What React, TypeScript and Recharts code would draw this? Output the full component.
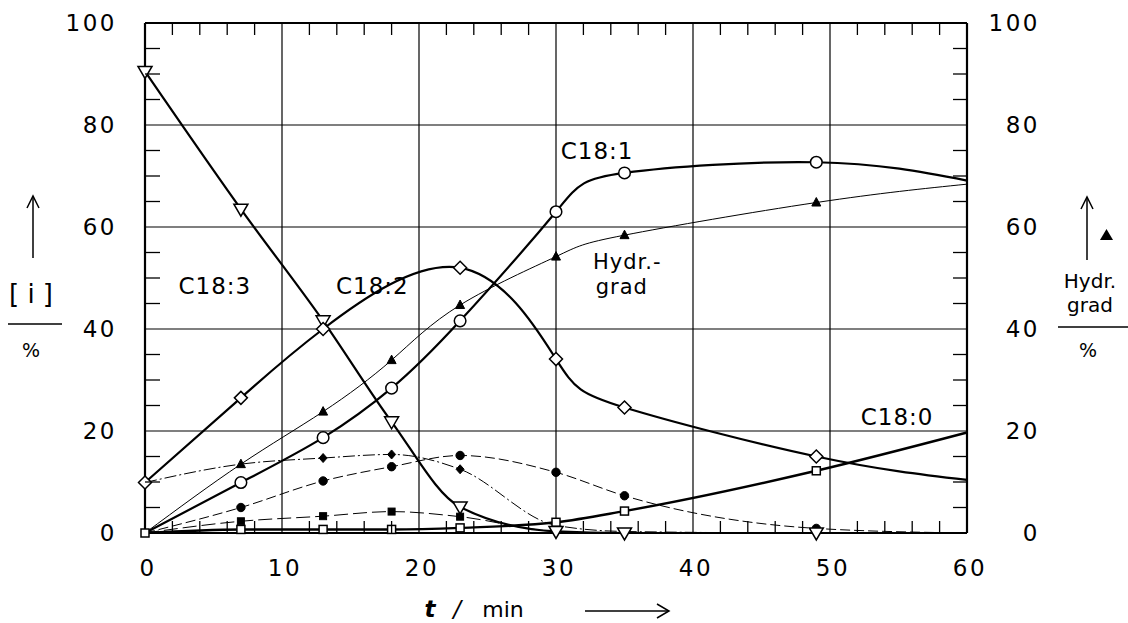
import React from "react";
import { LineChart, Line, XAxis, YAxis, ReferenceLine, ReferenceDot } from "recharts";

const FONT = "'DejaVu Sans', sans-serif";

// sampling times (min); last one only carries the curve ends, no markers
const times = [0, 7, 13, 18, 23, 30, 35, 49, 60];

const c183 = [90.5, 63.5, 41.6, 21.8, 5.1, 0.3, 0, 0, 0];
const c182 = [9.9, 26.5, 40, null, 52, 34.1, 24.6, 15.0, 10.4];
const c181 = [0, 9.9, 18.7, 28.4, 41.6, 63.0, 70.6, 72.7, 69.1];
const c180 = [0, 0.7, 0.7, 0.7, 1.0, 2.1, 4.3, 12.2, 19.7];
const hydrGrad = [0, 13.5, 23.8, 33.9, 44.7, 54.2, 58.4, 64.8, 68.4];
const isoDiamond = [9.9, 13.5, 14.7, 15.4, 12.5, 1.5, 0.3, 0, 0];
const isoDot = [0, 5.0, 10.2, 13.0, 15.2, 11.9, 7.3, 0.9, 0];
const isoSquare = [0, 2.3, 3.3, 4.2, 3.2, 0.3, 0, 0, 0];

// which times get a marker drawn
const marks183 = [0, 7, 13, 18, 23, 30, 35, 49];
const marks182 = [0, 7, 13, 23, 30, 35, 49];
const marks181 = [7, 13, 18, 23, 30, 35, 49];
const marks180 = [0, 7, 13, 18, 23, 30, 35, 49];
const marksHydr = [7, 13, 18, 23, 30, 35, 49];
const marksIsoDiamond = [13, 18, 23];
const marksIsoDot = [7, 13, 18, 23, 30, 35, 49];
const marksIsoSquare = [7, 13, 18, 23];

const xTicks = [0, 2, 4, 6, 8, 10, 12, 14, 16, 18, 20, 22, 24, 26, 28, 30, 32, 34, 36, 38, 40, 42, 44, 46, 48, 50, 52, 54, 56, 58, 60];
const yTicks = [0, 5, 10, 15, 20, 25, 30, 35, 40, 45, 50, 55, 60, 65, 70, 75, 80, 85, 90, 95, 100];
const gridX = [10, 20, 30, 40, 50];
const gridY = [20, 40, 60, 80];

const data = times.map((t, i) => ({
  t,
  c183: c183[i],
  c182: c182[i],
  c181: c181[i],
  c180: c180[i],
  hydr: hydrGrad[i],
  isoDiamond: isoDiamond[i],
  isoDot: isoDot[i],
  isoSquare: isoSquare[i],
}));

type Shape = "triDown" | "diamond" | "circle" | "triUp" | "diamondFill" | "dotFill" | "squareFill" | "square";

function marker(shape: Shape, cx: number, cy: number, key: string) {
  const open = { fill: "#fff", stroke: "#000", strokeWidth: 1.5 };
  const solid = { fill: "#000", stroke: "#000", strokeWidth: 1 };
  switch (shape) {
    case "triDown":
      return <polygon key={key} points={`${cx - 7},${cy - 5} ${cx + 7},${cy - 5} ${cx},${cy + 7}`} {...open} />;
    case "diamond":
      return <polygon key={key} points={`${cx},${cy - 6.5} ${cx + 6.5},${cy} ${cx},${cy + 6.5} ${cx - 6.5},${cy}`} {...open} />;
    case "circle":
      return <circle key={key} cx={cx} cy={cy} r={5.8} {...open} />;
    case "triUp":
      return <polygon key={key} points={`${cx - 4.5},${cy + 3.5} ${cx + 4.5},${cy + 3.5} ${cx},${cy - 5}`} {...solid} />;
    case "diamondFill":
      return <polygon key={key} points={`${cx},${cy - 4.5} ${cx + 4},${cy} ${cx},${cy + 4.5} ${cx - 4},${cy}`} {...solid} />;
    case "dotFill":
      return <circle key={key} cx={cx} cy={cy} r={4.2} {...solid} />;
    case "squareFill":
      return <rect key={key} x={cx - 3.5} y={cy - 3.5} width={7} height={7} {...solid} />;
    default:
      return <rect key={key} x={cx - 4} y={cy - 4} width={8} height={8} {...open} />;
  }
}

function makeDot(shape: Shape, marked: number[]) {
  return (props: any) => {
    const { cx, cy, payload, index } = props;
    const key = `${shape}-${index}`;
    if (cx == null || cy == null || !marked.includes(payload.t)) return <g key={key} />;
    return marker(shape, cx, cy, key);
  };
}

const labelStyle = { fontFamily: FONT, fontSize: 23, fill: "#000", letterSpacing: 2.5 };

function LeftTick(props: any) {
  const { x, y, payload } = props;
  const v = payload.value;
  return (
    <g>
      {v % 20 !== 0 && <line x1={x} x2={x + 15} y1={y} y2={y} stroke="#000" strokeWidth={1.3} />}
      {v % 20 === 0 && (
        <text x={x - 28} y={y} textAnchor="end" dominantBaseline="central" {...labelStyle}>
          {v}
        </text>
      )}
    </g>
  );
}

function RightTick(props: any) {
  const { x, y, payload } = props;
  const v = payload.value;
  return (
    <g>
      {v % 20 !== 0 && <line x1={x} x2={x - 14} y1={y} y2={y} stroke="#000" strokeWidth={1.3} />}
      {v % 20 === 0 && (
        <text x={x + 73} y={y} textAnchor="end" dominantBaseline="central" {...labelStyle}>
          {v}
        </text>
      )}
    </g>
  );
}

function BottomTick(props: any) {
  const { x, y, payload } = props;
  const v = payload.value;
  return (
    <g>
      {v % 10 !== 0 && <line x1={x} x2={x} y1={y} y2={y - 12} stroke="#000" strokeWidth={1.3} />}
      {v % 10 === 0 && (
        <text x={x + 3} y={y + 35} textAnchor="middle" dominantBaseline="central" {...labelStyle}>
          {v}
        </text>
      )}
    </g>
  );
}

function TopTick(props: any) {
  const { x, y, payload } = props;
  const v = payload.value;
  if (v % 10 === 0) return <g />;
  return <line x1={x} x2={x} y1={y} y2={y + 12} stroke="#000" strokeWidth={1.3} />;
}

function annotation(text: string, anchor: "middle" | "start", size = 23) {
  return (p: any) => {
    const vb = p.viewBox || {};
    return (
      <text x={vb.x} y={vb.y} textAnchor={anchor} dominantBaseline="central" {...labelStyle} fontSize={size} letterSpacing={1}>
        {text}
      </text>
    );
  };
}

const axisLine = { stroke: "#000", strokeWidth: 2.2 };

export default function App() {
  return (
    <div style={{ position: "absolute", left: 0, top: 0, width: 1128, height: 623, background: "#fff" }}>
      <LineChart width={1128} height={623} data={data} margin={{ top: 13, right: 101, bottom: 50, left: 85 }}>
        <XAxis
          xAxisId={0}
          dataKey="t"
          type="number"
          domain={[0, 60]}
          ticks={xTicks}
          interval={0}
          orientation="bottom"
          height={40}
          tickSize={0}
          tickMargin={0}
          tickLine={false}
          axisLine={axisLine}
          tick={(p: any) => <BottomTick {...p} />}
        />
        <XAxis
          xAxisId="top"
          dataKey="t"
          type="number"
          domain={[0, 60]}
          ticks={xTicks}
          interval={0}
          orientation="top"
          height={10}
          tickSize={0}
          tickMargin={0}
          tickLine={false}
          axisLine={axisLine}
          tick={(p: any) => <TopTick {...p} />}
        />
        <YAxis
          yAxisId={0}
          type="number"
          domain={[0, 100]}
          ticks={yTicks}
          interval={0}
          width={60}
          tickSize={0}
          tickMargin={0}
          tickLine={false}
          axisLine={axisLine}
          tick={(p: any) => <LeftTick {...p} />}
        />
        <YAxis
          yAxisId="right"
          orientation="right"
          type="number"
          domain={[0, 100]}
          ticks={yTicks}
          interval={0}
          width={60}
          tickSize={0}
          tickMargin={0}
          tickLine={false}
          axisLine={axisLine}
          tick={(p: any) => <RightTick {...p} />}
        />

        {gridX.map((v) => (
          <ReferenceLine key={`gx${v}`} x={v} stroke="#000" strokeWidth={1.2} />
        ))}
        {gridY.map((v) => (
          <ReferenceLine key={`gy${v}`} y={v} stroke="#000" strokeWidth={1.2} />
        ))}

        <Line type="monotone" dataKey="isoSquare" stroke="#000" strokeWidth={1} strokeDasharray="14 5" dot={makeDot("squareFill", marksIsoSquare)} activeDot={false} isAnimationActive={false} />
        <Line type="monotone" dataKey="isoDot" stroke="#000" strokeWidth={1} strokeDasharray="10 4" dot={makeDot("dotFill", marksIsoDot)} activeDot={false} isAnimationActive={false} />
        <Line type="monotone" dataKey="isoDiamond" stroke="#000" strokeWidth={1} strokeDasharray="12 3 2 3" dot={makeDot("diamondFill", marksIsoDiamond)} activeDot={false} isAnimationActive={false} />
        <Line yAxisId="right" type="natural" dataKey="hydr" stroke="#000" strokeWidth={1} dot={makeDot("triUp", marksHydr)} activeDot={false} isAnimationActive={false} />
        <Line type="monotone" dataKey="c180" stroke="#000" strokeWidth={2.4} dot={makeDot("square", marks180)} activeDot={false} isAnimationActive={false} />
        <Line type="monotone" dataKey="c183" stroke="#000" strokeWidth={2.2} dot={makeDot("triDown", marks183)} activeDot={false} isAnimationActive={false} />
        <Line type="natural" dataKey="c182" connectNulls stroke="#000" strokeWidth={2.2} dot={makeDot("diamond", marks182)} activeDot={false} isAnimationActive={false} />
        <Line type="natural" dataKey="c181" stroke="#000" strokeWidth={2.2} dot={makeDot("circle", marks181)} activeDot={false} isAnimationActive={false} />

        <ReferenceDot x={5.1} y={48.4} r={0} label={annotation("C18:3", "middle")} />
        <ReferenceDot x={16.6} y={48.4} r={0} label={annotation("C18:2", "middle")} />
        <ReferenceDot x={33} y={74.9} r={0} label={annotation("C18:1", "middle")} />
        <ReferenceDot x={32.7} y={53.2} r={0} label={annotation("Hydr.-", "start", 21)} />
        <ReferenceDot x={32.9} y={48.3} r={0} label={annotation("grad", "start", 21)} />
        <ReferenceDot x={54.9} y={22.7} r={0} label={annotation("C18:0", "middle")} />
      </LineChart>

      <svg width={1128} height={623} style={{ position: "absolute", left: 0, top: 0, pointerEvents: "none" }}>
        {/* left axis title */}
        <line x1={33} x2={33} y1={258} y2={196} stroke="#000" strokeWidth={1.5} />
        <polyline points="27,208 33,196 39,208" fill="none" stroke="#000" strokeWidth={1.5} />
        <text x={31} y={294} textAnchor="middle" dominantBaseline="central" fontFamily={FONT} fontSize={26}>
          [ i ]
        </text>
        <line x1={8} x2={62} y1={324} y2={324} stroke="#000" strokeWidth={1.5} />
        <text x={31} y={350} textAnchor="middle" dominantBaseline="central" fontFamily={FONT} fontSize={19}>
          %
        </text>

        {/* right axis title */}
        <line x1={1087} x2={1087} y1={260} y2={197} stroke="#000" strokeWidth={1.5} />
        <polyline points="1081,209 1087,197 1093,209" fill="none" stroke="#000" strokeWidth={1.5} />
        <polygon points="1100,240 1113,240 1106.5,229" fill="#000" />
        <text x={1090} y={281} textAnchor="middle" dominantBaseline="central" fontFamily={FONT} fontSize={20}>
          Hydr.
        </text>
        <text x={1090} y={305} textAnchor="middle" dominantBaseline="central" fontFamily={FONT} fontSize={20}>
          grad
        </text>
        <line x1={1058} x2={1128} y1={327} y2={327} stroke="#000" strokeWidth={1.5} />
        <text x={1088} y={350} textAnchor="middle" dominantBaseline="central" fontFamily={FONT} fontSize={19}>
          %
        </text>

        {/* x axis title */}
        <text x={430} y={617} textAnchor="middle" fontFamily={FONT} fontSize={23} fontStyle="italic" fontWeight="bold">
          t
        </text>
        <text x={457} y={617} textAnchor="middle" fontFamily={FONT} fontSize={23} fontStyle="italic">
          /
        </text>
        <text x={503} y={617} textAnchor="middle" fontFamily={FONT} fontSize={22}>
          min
        </text>
        <line x1={585} x2={669} y1={611} y2={611} stroke="#000" strokeWidth={1.5} />
        <polyline points="657,604 669,611 657,618" fill="none" stroke="#000" strokeWidth={1.5} />
      </svg>
    </div>
  );
}
